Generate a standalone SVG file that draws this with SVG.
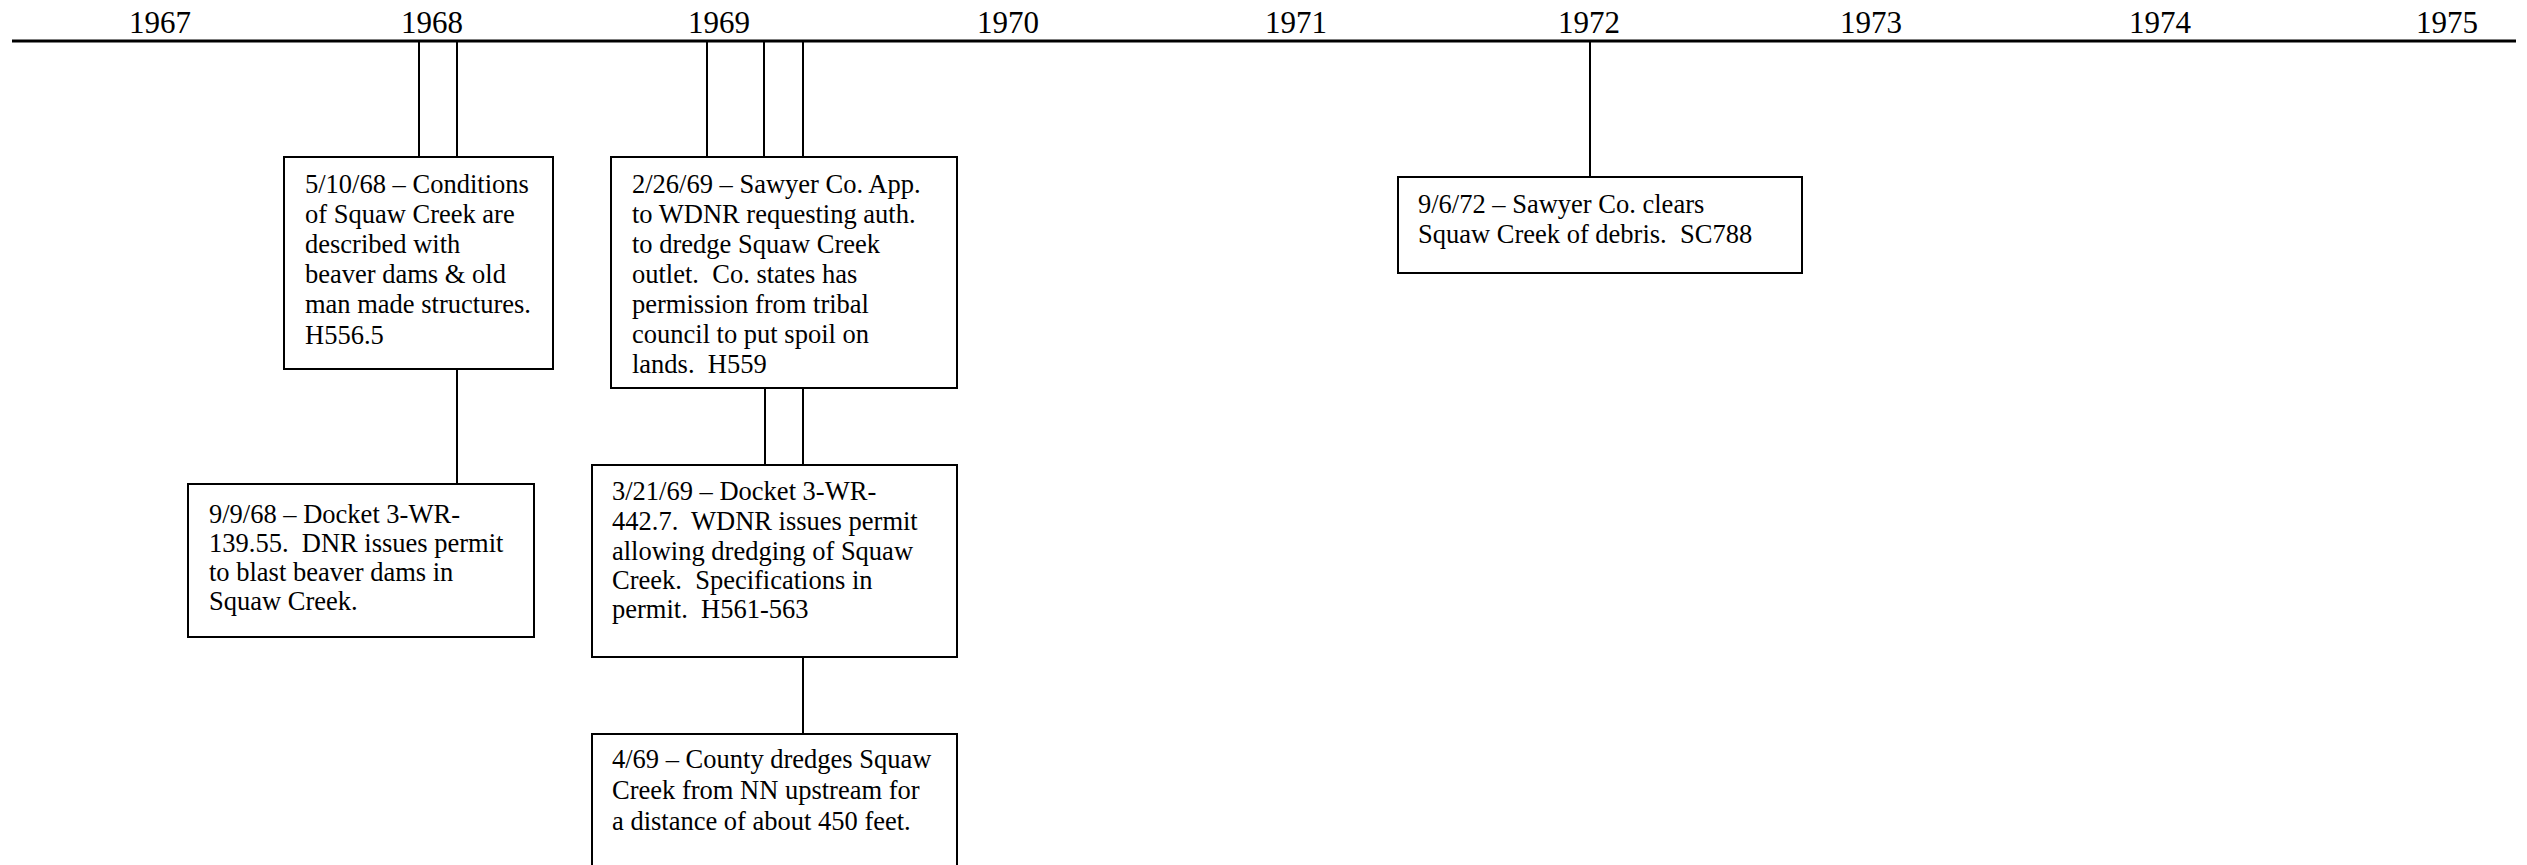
<svg xmlns="http://www.w3.org/2000/svg" width="2527" height="865" viewBox="0 0 2527 865">
<style>
.yr{font-family:"Liberation Serif","Times New Roman",serif;font-size:31px;fill:#000;text-anchor:middle}
.t{font-family:"Liberation Serif","Times New Roman",serif;font-size:26.5px;fill:#000}
.box{fill:#fff;stroke:#000;stroke-width:2}
.c{stroke:#000;stroke-width:2;fill:none}
</style>
<rect width="2527" height="865" fill="#fff"/>
<g id="timeline">
<line x1="12" y1="41" x2="2516" y2="41" stroke="#000" stroke-width="3"/>
<text class="yr" x="160" y="33">1967</text>
<text class="yr" x="432" y="33">1968</text>
<text class="yr" x="719" y="33">1969</text>
<text class="yr" x="1008" y="33">1970</text>
<text class="yr" x="1296" y="33">1971</text>
<text class="yr" x="1589" y="33">1972</text>
<text class="yr" x="1871" y="33">1973</text>
<text class="yr" x="2160" y="33">1974</text>
<text class="yr" x="2447" y="33">1975</text>
</g>
<g id="connectors">
<line class="c" x1="419" y1="41" x2="419" y2="157"/>
<line class="c" x1="457" y1="41" x2="457" y2="157"/>
<line class="c" x1="457" y1="369" x2="457" y2="484"/>
<line class="c" x1="707" y1="41" x2="707" y2="157"/>
<line class="c" x1="764" y1="41" x2="764" y2="157"/>
<line class="c" x1="803" y1="41" x2="803" y2="157"/>
<line class="c" x1="765" y1="388" x2="765" y2="465"/>
<line class="c" x1="803" y1="388" x2="803" y2="465"/>
<line class="c" x1="803" y1="657" x2="803" y2="734"/>
<line class="c" x1="1590" y1="41" x2="1590" y2="177"/>
</g>
<g id="n1">
<rect class="box" x="284" y="157" width="269" height="212"/>
<text class="t" x="305" y="193" xml:space="preserve">5/10/68 – Conditions</text>
<text class="t" x="305" y="223" xml:space="preserve">of Squaw Creek are</text>
<text class="t" x="305" y="253" xml:space="preserve">described with</text>
<text class="t" x="305" y="283" xml:space="preserve">beaver dams &amp; old</text>
<text class="t" x="305" y="313" xml:space="preserve">man made structures.</text>
<text class="t" x="305" y="344" xml:space="preserve">H556.5</text>
</g>
<g id="n2">
<rect class="box" x="188" y="484" width="346" height="153"/>
<text class="t" x="209" y="523" xml:space="preserve">9/9/68 – Docket 3-WR-</text>
<text class="t" x="209" y="552" xml:space="preserve">139.55.  DNR issues permit</text>
<text class="t" x="209" y="581" xml:space="preserve">to blast beaver dams in</text>
<text class="t" x="209" y="610" xml:space="preserve">Squaw Creek.</text>
</g>
<g id="n3">
<rect class="box" x="611" y="157" width="346" height="231"/>
<text class="t" x="632" y="193" xml:space="preserve">2/26/69 – Sawyer Co. App.</text>
<text class="t" x="632" y="223" xml:space="preserve">to WDNR requesting auth.</text>
<text class="t" x="632" y="253" xml:space="preserve">to dredge Squaw Creek</text>
<text class="t" x="632" y="283" xml:space="preserve">outlet.  Co. states has</text>
<text class="t" x="632" y="313" xml:space="preserve">permission from tribal</text>
<text class="t" x="632" y="343" xml:space="preserve">council to put spoil on</text>
<text class="t" x="632" y="373" xml:space="preserve">lands.  H559</text>
</g>
<g id="n4">
<rect class="box" x="592" y="465" width="365" height="192"/>
<text class="t" x="612" y="500" xml:space="preserve">3/21/69 – Docket 3-WR-</text>
<text class="t" x="612" y="530" xml:space="preserve">442.7.  WDNR issues permit</text>
<text class="t" x="612" y="560" xml:space="preserve">allowing dredging of Squaw</text>
<text class="t" x="612" y="589" xml:space="preserve">Creek.  Specifications in</text>
<text class="t" x="612" y="618" xml:space="preserve">permit.  H561-563</text>
</g>
<g id="n5">
<rect class="box" x="592" y="734" width="365" height="160"/>
<text class="t" x="612" y="768" xml:space="preserve">4/69 – County dredges Squaw</text>
<text class="t" x="612" y="799" xml:space="preserve">Creek from NN upstream for</text>
<text class="t" x="612" y="830" xml:space="preserve">a distance of about 450 feet.</text>
</g>
<g id="n6">
<rect class="box" x="1398" y="177" width="404" height="96"/>
<text class="t" x="1418" y="213" xml:space="preserve">9/6/72 – Sawyer Co. clears</text>
<text class="t" x="1418" y="243" xml:space="preserve">Squaw Creek of debris.  SC788</text>
</g>
</svg>
